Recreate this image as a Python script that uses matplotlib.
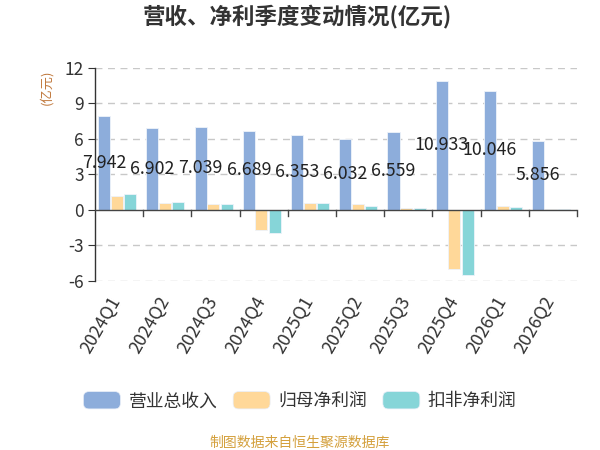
import matplotlib
matplotlib.use("Agg")
import matplotlib.pyplot as plt
import matplotlib.transforms as mtransforms
import numpy as np
from matplotlib.patches import FancyBboxPatch, Patch
from matplotlib.legend_handler import HandlerPatch

plt.rcParams['font.family'] = ['Noto Sans CJK SC', 'DejaVu Sans']

quarters = ["2024Q1", "2024Q2", "2024Q3", "2024Q4", "2025Q1", "2025Q2",
            "2025Q3", "2025Q4", "2026Q1", "2026Q2"]
revenue = [7.942, 6.902, 7.039, 6.689, 6.353, 6.032, 6.559, 10.933, 10.046, 5.856]
net_profit = [1.19, 0.57, 0.51, -1.70, 0.62, 0.51, 0.17, -4.98, 0.34, 0.06]
deducted_profit = [1.34, 0.68, 0.53, -1.99, 0.62, 0.31, 0.14, -5.49, 0.28, 0.03]
series_names = ["营业总收入", "归母净利润", "扣非净利润"]
colors = ["#8DADDB", "#FFD899", "#86D5D8"]
yticks = [-6, -3, 0, 3, 6, 9, 12]

fig = plt.figure(figsize=(6, 4.5), dpi=100)
ax = fig.add_axes([0.158, 0.376, 0.804, 0.473])

x = np.arange(len(quarters))
w = 0.25
offs = [-0.308, -0.045, 0.234]
for vals, off, c, name in zip([revenue, net_profit, deducted_profit], offs, colors, series_names):
    ax.bar(x + off, vals, width=w, color=c, edgecolor="#EEF3FA", linewidth=0.6, label=name, zorder=3)

for xi, v in zip(x, revenue):
    ax.text(xi + offs[0], v / 2, f"{v:.3f}", ha="center", va="center", fontsize=12.8, color="#222222", zorder=5)

ax.set_xlim(-0.5, len(quarters) - 0.5)
ax.set_ylim(-6, 12)
ax.set_yticks(yticks)
ax.set_yticklabels([str(t) for t in yticks], fontsize=12.5, color="#333333")
for t in yticks:
    if t != 0:
        ax.axhline(t, color="#C8C8C8", linestyle=(0, (5, 4)), linewidth=1.0, zorder=1)
ax.axhline(0, color="#444444", linewidth=1.0, zorder=4)

for s in ["top", "right", "bottom"]:
    ax.spines[s].set_visible(False)
ax.spines["left"].set_color("#333333")
ax.spines["left"].set_linewidth(1.0)
ax.tick_params(axis="y", length=5, color="#333333", pad=3)

ax.set_xticks(x)
ax.set_xticklabels(quarters, rotation=60, ha="right", rotation_mode="anchor", fontsize=12.8, color="#333333")
ax.tick_params(axis="x", length=0, pad=9)
shift = mtransforms.ScaledTranslation(-0.10, 0, fig.dpi_scale_trans)
for lbl in ax.get_xticklabels():
    lbl.set_transform(lbl.get_transform() + shift)
# group boundary ticks on zero line
for b in np.arange(0.5, len(quarters), 1.0):
    ax.plot([b, b], [0, -0.5], color="#444444", linewidth=1.0, zorder=4, clip_on=False)

fig.text(0.077, 0.806, "(亿元)", rotation=90, ha="center", va="center", fontsize=9.5, color="#C0783C")
fig.text(0.495, 0.962, "营收、净利季度变动情况(亿元)", ha="center", va="center", fontsize=16.2,
         fontweight="bold", color="#333333")


class RoundHandler(HandlerPatch):
    def create_artists(self, legend, orig_handle, xdescent, ydescent, width, height, fontsize, trans):
        p = FancyBboxPatch((-xdescent, -ydescent), width, height,
                           boxstyle="round,pad=0,rounding_size=4",
                           facecolor=orig_handle.get_facecolor(), edgecolor="#E8EEF8", linewidth=0.5,
                           transform=trans)
        return [p]


handles = [Patch(facecolor=c) for c in colors]
leg = fig.legend(handles, series_names, loc="center", bbox_to_anchor=(0.5, 0.109), ncol=3,
                 frameon=False, fontsize=12.8, handlelength=2.08, handleheight=1.12, handletextpad=0.45,
                 columnspacing=0.9, handler_map={Patch: RoundHandler()})
for t in leg.get_texts():
    t.set_color("#333333")

fig.text(0.5, 0.016, "制图数据来自恒生聚源数据库", ha="center", va="center", fontsize=10, color="#D4A03C")

fig.savefig("out.png", dpi=100)
